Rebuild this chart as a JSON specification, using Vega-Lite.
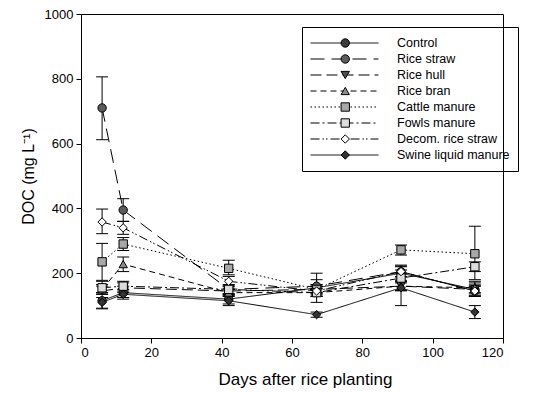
{
  "$schema": "https://vega.github.io/schema/vega-lite/v6.json",
  "autosize": {"type": "none"},
  "width": 422,
  "height": 324,
  "padding": {"left": 81, "top": 14, "right": 45, "bottom": 55},
  "config": {
    "font": "Liberation Sans",
    "view": {"stroke": "black", "strokeWidth": 1},
    "axis": {
      "grid": false, "domainColor": "black", "tickColor": "black", "tickSize": 5,
      "labelFontSize": 13, "labelColor": "black", "labelFont": "Liberation Sans",
      "titleFontSize": 16, "titleFontWeight": "normal", "titleColor": "black", "titleFont": "Liberation Sans"
    }
  },
  "data": {"values": [
    {"series": "Control", "series2": "Control", "day": 6, "doc": 115, "lo": 92, "hi": 135},
    {"series": "Control", "series2": "Control", "day": 12, "doc": 140, "lo": 125, "hi": 160},
    {"series": "Control", "series2": "Control", "day": 42, "doc": 120, "lo": 105, "hi": 135},
    {"series": "Control", "series2": "Control", "day": 67, "doc": 155, "lo": 110, "hi": 200},
    {"series": "Control", "series2": "Control", "day": 91, "doc": 200, "lo": 178, "hi": 225},
    {"series": "Control", "series2": "Control", "day": 112, "doc": 150, "lo": 128, "hi": 175},
    {"series": "Rice straw", "series2": "Rice straw", "day": 6, "doc": 710, "lo": 612, "hi": 806},
    {"series": "Rice straw", "series2": "Rice straw", "day": 12, "doc": 395, "lo": 360, "hi": 430},
    {"series": "Rice straw", "series2": "Rice straw", "day": 42, "doc": 150, "lo": 135, "hi": 165},
    {"series": "Rice straw", "series2": "Rice straw", "day": 67, "doc": 160, "lo": 140, "hi": 180},
    {"series": "Rice straw", "series2": "Rice straw", "day": 91, "doc": 205, "lo": 188, "hi": 222},
    {"series": "Rice straw", "series2": "Rice straw", "day": 112, "doc": 145, "lo": 130, "hi": 160},
    {"series": "Rice hull", "series2": "Rice hull", "day": 6, "doc": 145, "lo": 135, "hi": 160},
    {"series": "Rice hull", "series2": "Rice hull", "day": 12, "doc": 155, "lo": 140, "hi": 170},
    {"series": "Rice hull", "series2": "Rice hull", "day": 42, "doc": 145, "lo": 132, "hi": 158},
    {"series": "Rice hull", "series2": "Rice hull", "day": 67, "doc": 150, "lo": 136, "hi": 164},
    {"series": "Rice hull", "series2": "Rice hull", "day": 91, "doc": 160, "lo": 146, "hi": 174},
    {"series": "Rice hull", "series2": "Rice hull", "day": 112, "doc": 150, "lo": 136, "hi": 164},
    {"series": "Rice bran", "series2": "Rice bran", "day": 6, "doc": 150, "lo": 140, "hi": 165},
    {"series": "Rice bran", "series2": "Rice bran", "day": 12, "doc": 228, "lo": 205, "hi": 250},
    {"series": "Rice bran", "series2": "Rice bran", "day": 42, "doc": 140, "lo": 128, "hi": 152},
    {"series": "Rice bran", "series2": "Rice bran", "day": 67, "doc": 140, "lo": 128, "hi": 152},
    {"series": "Rice bran", "series2": "Rice bran", "day": 91, "doc": 160, "lo": 146, "hi": 174},
    {"series": "Rice bran", "series2": "Rice bran", "day": 112, "doc": 155, "lo": 140, "hi": 170},
    {"series": "Cattle manure", "series2": "Cattle manure", "day": 6, "doc": 235, "lo": 178, "hi": 292},
    {"series": "Cattle manure", "series2": "Cattle manure", "day": 12, "doc": 290, "lo": 270, "hi": 310},
    {"series": "Cattle manure", "series2": "Cattle manure", "day": 42, "doc": 215, "lo": 195, "hi": 240},
    {"series": "Cattle manure", "series2": "Cattle manure", "day": 67, "doc": 150, "lo": 136, "hi": 165},
    {"series": "Cattle manure", "series2": "Cattle manure", "day": 91, "doc": 272, "lo": 256, "hi": 287},
    {"series": "Cattle manure", "series2": "Cattle manure", "day": 112, "doc": 260, "lo": 180, "hi": 345},
    {"series": "Fowls manure", "series2": "Fowls manure", "day": 6, "doc": 155, "lo": 140, "hi": 175},
    {"series": "Fowls manure", "series2": "Fowls manure", "day": 12, "doc": 160, "lo": 145, "hi": 175},
    {"series": "Fowls manure", "series2": "Fowls manure", "day": 42, "doc": 150, "lo": 137, "hi": 163},
    {"series": "Fowls manure", "series2": "Fowls manure", "day": 67, "doc": 140, "lo": 128, "hi": 152},
    {"series": "Fowls manure", "series2": "Fowls manure", "day": 91, "doc": 185, "lo": 170, "hi": 200},
    {"series": "Fowls manure", "series2": "Fowls manure", "day": 112, "doc": 220, "lo": 205, "hi": 235},
    {"series": "Decom. rice straw", "series2": "Decom. rice straw", "day": 6, "doc": 358, "lo": 322, "hi": 398},
    {"series": "Decom. rice straw", "series2": "Decom. rice straw", "day": 12, "doc": 340, "lo": 320, "hi": 360},
    {"series": "Decom. rice straw", "series2": "Decom. rice straw", "day": 42, "doc": 175, "lo": 160, "hi": 190},
    {"series": "Decom. rice straw", "series2": "Decom. rice straw", "day": 67, "doc": 145, "lo": 130, "hi": 160},
    {"series": "Decom. rice straw", "series2": "Decom. rice straw", "day": 91, "doc": 205, "lo": 190, "hi": 220},
    {"series": "Decom. rice straw", "series2": "Decom. rice straw", "day": 112, "doc": 145, "lo": 130, "hi": 160},
    {"series": "Swine liquid manure", "series2": "Swine liquid manure", "day": 6, "doc": 110, "lo": 90, "hi": 125},
    {"series": "Swine liquid manure", "series2": "Swine liquid manure", "day": 12, "doc": 135, "lo": 120, "hi": 150},
    {"series": "Swine liquid manure", "series2": "Swine liquid manure", "day": 42, "doc": 115, "lo": 100, "hi": 130},
    {"series": "Swine liquid manure", "series2": "Swine liquid manure", "day": 67, "doc": 72, "lo": 64, "hi": 80},
    {"series": "Swine liquid manure", "series2": "Swine liquid manure", "day": 91, "doc": 155, "lo": 100, "hi": 210},
    {"series": "Swine liquid manure", "series2": "Swine liquid manure", "day": 112, "doc": 80, "lo": 60, "hi": 100}
  ]},
  "encoding": {
    "x": {"field": "day", "type": "quantitative", "scale": {"domain": [0, 120], "nice": false},
          "axis": {"values": [0, 20, 40, 60, 80, 100, 120], "title": "Days after rice planting", "titlePadding": 12, "labelPadding": 3,
                   "titleFontSize": 17, "titleX": 224, "titleAlign": "center"}},
    "y": {"field": "doc", "type": "quantitative", "scale": {"domain": [0, 1000], "nice": false},
          "axis": {"values": [0, 200, 400, 600, 800, 1000], "format": "d", "title": "DOC (mg L⁻¹)", "titlePadding": 8, "labelPadding": 3}}
  },
  "layer": [
    {"mark": {"type": "rule", "color": "black", "strokeWidth": 1},
     "encoding": {"y": {"field": "lo", "type": "quantitative"}, "y2": {"field": "hi"}}},
    {"mark": {"type": "tick", "orient": "horizontal", "color": "black", "size": 12, "thickness": 1, "opacity": 1},
     "encoding": {"y": {"field": "lo", "type": "quantitative"}}},
    {"mark": {"type": "tick", "orient": "horizontal", "color": "black", "size": 12, "thickness": 1, "opacity": 1},
     "encoding": {"y": {"field": "hi", "type": "quantitative"}}},
    {"mark": {"type": "line", "color": "black", "strokeWidth": 1},
     "encoding": {
       "strokeDash": {"field": "series", "type": "nominal",
         "sort": ["Control", "Rice straw", "Rice hull", "Rice bran", "Cattle manure", "Fowls manure", "Decom. rice straw", "Swine liquid manure"],
         "scale": {"range": [[1, 0], [14, 7], [11, 5], [6, 4], [1.5, 2.5], [9, 3, 2, 3], [9, 3, 1.5, 2, 1.5, 3], [1, 0]]},
         "legend": {"orient": "none", "legendX": 221, "legendY": 13, "title": null, "padding": 8,
           "strokeColor": "black", "symbolType": "stroke", "symbolSize": 4624,
           "symbolStrokeWidth": 1, "symbolStrokeColor": "black", "clipHeight": 16, "rowPadding": 0,
           "labelFontSize": 12.5, "labelOffset": 18, "labelColor": "black", "labelFont": "Liberation Sans"}}
     }},
    {"mark": {"type": "point", "filled": true, "stroke": "black", "strokeWidth": 1, "size": 70, "opacity": 1},
     "encoding": {
       "shape": {"field": "series2", "type": "nominal",
         "scale": {"domain": ["Control", "Rice straw", "Rice hull", "Rice bran", "Cattle manure", "Fowls manure", "Decom. rice straw", "Swine liquid manure"],
                   "range": ["circle", "circle", "triangle-down", "triangle-up", "square", "square", "diamond", "diamond"]},
         "legend": {"orient": "none", "legendX": 250, "legendY": 13, "title": null, "padding": 8,
           "clipHeight": 16, "rowPadding": 0, "labelFontSize": 12.5, "labelExpr": "''",
           "symbolStrokeColor": "black", "symbolStrokeWidth": 1, "symbolSize": 70, "symbolOpacity": 1,
           "encode": {"symbols": {"update": {"stroke": {"value": "black"}, "strokeWidth": {"value": 1}, "opacity": {"value": 1}}}}}},
       "fill": {"field": "series2", "type": "nominal",
         "scale": {"domain": ["Control", "Rice straw", "Rice hull", "Rice bran", "Cattle manure", "Fowls manure", "Decom. rice straw", "Swine liquid manure"],
                   "range": ["#3c3c3c", "#5c5c5c", "#505050", "#8c8c8c", "#a8a8a8", "#dcdcdc", "#ffffff", "#333333"]},
         "legend": {"orient": "none", "legendX": 250, "legendY": 13, "title": null, "padding": 8,
           "clipHeight": 16, "rowPadding": 0, "labelFontSize": 12.5, "labelExpr": "''",
           "symbolStrokeColor": "black", "symbolStrokeWidth": 1, "symbolSize": 70, "symbolOpacity": 1,
           "encode": {"symbols": {"update": {"stroke": {"value": "black"}, "strokeWidth": {"value": 1}, "opacity": {"value": 1}}}}}}
     }}
  ]
}
